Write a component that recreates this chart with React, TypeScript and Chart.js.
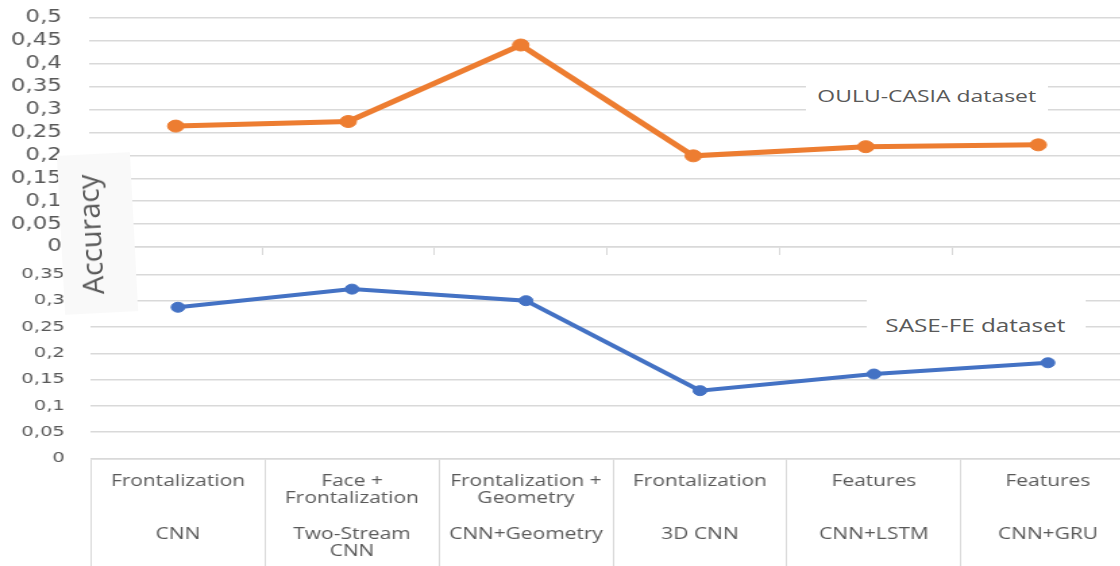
import React, { useEffect, useRef } from "react";
import { Chart, registerables } from "chart.js";

Chart.register(...registerables);

// ---- data ----
const preprocessing: string[][] = [
  ["Frontalization"],
  ["Face +", "Frontalization"],
  ["Frontalization +", "Geometry"],
  ["Frontalization"],
  ["Features"],
  ["Features"],
];
const models: string[][] = [
  ["CNN"],
  ["Two-Stream", "CNN"],
  ["CNN+Geometry"],
  ["3D CNN"],
  ["CNN+LSTM"],
  ["CNN+GRU"],
];
const ouluValues = [0.264, 0.274, 0.441, 0.199, 0.219, 0.223];
const saseValues = [0.2875, 0.322, 0.3, 0.129, 0.1606, 0.182];
const topAxisMax = 0.5;
const bottomAxisMax = 0.35;
const tickStep = 0.05;
const ouluLabel = "OULU-CASIA dataset";
const saseLabel = "SASE-FE dataset";
const yTitle = "Accuracy";

const labels = preprocessing.map((p, i) => [
  ...p,
  ...Array(3 - p.length).fill(""),
  ...models[i],
]);

const fmt = (v: number | string) =>
  String(Math.round(Number(v) * 100) / 100).replace(".", ",");

const GRID = "#d9d9d9";
const TEXT = "#595959";
const S = 1.35; // horizontal stretch of the reference picture

const fixX = (h: number) => (s: any) => {
  s.height = h;
  s.paddingLeft = 0;
  s.paddingRight = 0;
  s.paddingTop = 0;
  s.paddingBottom = 0;
};
const fixY = (w: number) => (s: any) => {
  s.width = w;
  s.paddingLeft = 0;
  s.paddingRight = 0;
  s.paddingTop = 0;
  s.paddingBottom = 0;
};

export default function App() {
  const topRef = useRef<HTMLCanvasElement>(null);
  const botRef = useRef<HTMLCanvasElement>(null);

  useEffect(() => {
    const top = new Chart(topRef.current!, {
      type: "line",
      data: {
        labels,
        datasets: [
          {
            data: ouluValues,
            borderColor: "#ED7D31",
            backgroundColor: "#ED7D31",
            borderWidth: 5,
            pointRadius: 6,
            pointBorderWidth: 1,
            pointHoverRadius: 6,
            tension: 0,
          },
        ],
      },
      options: {
        responsive: false,
        animation: false,
        devicePixelRatio: 1,
        layout: { autoPadding: false, padding: { top: 18, right: 7, left: 0, bottom: 0 } },
        plugins: { legend: { display: false }, tooltip: { enabled: false } },
        scales: {
          x: {
            offset: true,
            grid: { offset: true, drawOnChartArea: false, tickLength: 8, color: GRID, lineWidth: 1 },
            border: { color: GRID, width: 1.5 },
            ticks: { display: false },
            afterFit: fixX(15),
          },
          y: {
            min: 0,
            max: topAxisMax,
            ticks: {
              stepSize: tickStep,
              autoSkip: false,
              callback: fmt,
              padding: 20.4,
              color: TEXT,
              font: { family: "DejaVu Sans", size: 17 },
            },
            grid: { drawTicks: false, color: GRID, lineWidth: 1.5 },
            border: { display: false },
            afterFit: fixY(66.3),
          },
        },
      },
    });

    const bot = new Chart(botRef.current!, {
      type: "line",
      data: {
        labels,
        datasets: [
          {
            data: saseValues,
            borderColor: "#4472C4",
            backgroundColor: "#4472C4",
            borderWidth: 4,
            pointRadius: 5,
            pointBorderWidth: 1,
            pointHoverRadius: 5,
            tension: 0,
          },
        ],
      },
      options: {
        responsive: false,
        animation: false,
        devicePixelRatio: 1,
        layout: { autoPadding: false, padding: { top: 12.4, right: 4.3, left: 0, bottom: 0 } },
        plugins: { legend: { display: false }, tooltip: { enabled: false } },
        scales: {
          x: {
            offset: true,
            grid: { offset: true, drawOnChartArea: false, tickLength: 107.5, color: GRID, lineWidth: 1 },
            border: { color: GRID, width: 1.5 },
            ticks: {
              autoSkip: false,
              maxRotation: 0,
              minRotation: 0,
              padding: -93.5,
              color: TEXT,
              font: { family: "Open Sans", size: 15.5, lineHeight: 17.6 / 15.5 },
            },
            afterFit: fixX(107.5),
          },
          y: {
            min: 0,
            max: bottomAxisMax,
            ticks: {
              stepSize: tickStep,
              autoSkip: false,
              callback: fmt,
              padding: 19.3,
              color: TEXT,
              font: { family: "DejaVu Sans", size: 14.5 },
            },
            grid: { drawTicks: false, color: GRID, lineWidth: 1.5 },
            border: { display: false },
            afterFit: fixY(67.4),
          },
        },
      },
    });

    return () => {
      top.destroy();
      bot.destroy();
    };
  }, []);

  return (
    <div
      style={{
        position: "fixed",
        left: 0,
        top: 0,
        width: 1120,
        height: 566,
        overflow: "hidden",
        background: "#fff",
      }}
    >
      <div
        style={{
          position: "absolute",
          left: 0,
          top: 0,
          width: 845,
          height: 566,
          transform: `scaleX(${S})`,
          transformOrigin: "0 0",
        }}
      >
        <canvas
          ref={topRef}
          width={840}
          height={262}
          style={{ position: "absolute", left: 0, top: 0, width: "840px", height: "262px" }}
        />
        <canvas
          ref={botRef}
          width={845}
          height={304}
          style={{ position: "absolute", left: 0, top: 262, width: "845px", height: "304px" }}
        />
        <div
          style={{
            position: "absolute",
            left: 597,
            top: 83,
            width: 179,
            height: 31,
            background: "#fff",
            color: TEXT,
            font: "17px 'Open Sans'",
            lineHeight: "25px",
            textAlign: "center",
            whiteSpace: "nowrap",
          }}
        >
          {ouluLabel}
        </div>
        <div
          style={{
            position: "absolute",
            left: 641.5,
            top: 298,
            width: 162,
            height: 42,
            boxSizing: "border-box",
            paddingTop: 12,
            background: "#fff",
            color: TEXT,
            font: "18px 'Open Sans'",
            lineHeight: "30px",
            textAlign: "center",
            whiteSpace: "nowrap",
          }}
        >
          {saseLabel}
        </div>
      </div>
      <div
        style={{
          position: "absolute",
          left: 61,
          top: 154,
          width: 73,
          height: 159,
          background: "#f9f9f9",
          transform: "rotate(-3deg)",
          display: "flex",
          alignItems: "center",
          justifyContent: "center",
        }}
      >
        <div
          style={{
            transform: "translateX(-7px) rotate(-90deg)",
            font: "29px 'Open Sans'",
            color: TEXT,
            whiteSpace: "nowrap",
            lineHeight: "30px",
          }}
        >
          {yTitle}
        </div>
      </div>
    </div>
  );
}
